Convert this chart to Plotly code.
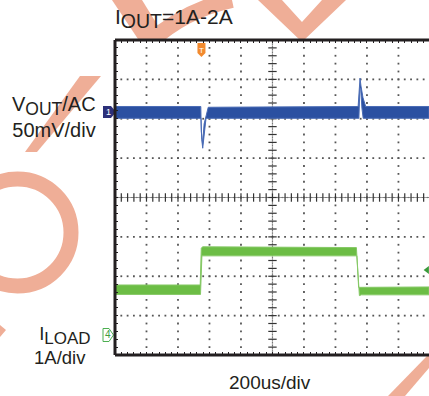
import numpy as np
import plotly.graph_objects as go

# ---------------- data ----------------
# time base: 200 us/div, 10 div; VOUT/AC 50 mV/div; ILOAD 1 A/div
time_label = "200us/div"
vout_label = "V<sub><span style='font-size:17.5px'>OUT</span></sub>/AC<br>50mV/div"
iload_label = "I<sub><span style='font-size:17px'>LOAD</span></sub><br>1A/div&nbsp;"
title_text = "I<sub><span style='font-size:19.5px'>OUT</span></sub>=1A-2A"

# VOUT noise band, upper / lower envelope (us, mV)
vout_up_t = [0, 545, 548, 556, 566, 592, 1544, 1552, 1556, 1562, 1575, 1592, 1994]
vout_up_v = [7, 7, -25, -40, -15, 6, 7, 40, 43, 33, 18, 7, 7]
vout_lo_t = [0, 546, 551, 557, 562, 578, 1549, 1555, 1560, 1568, 1576, 1994]
vout_lo_v = [-8, -8, -35, -46, -38, -8, -8, 30, 30, 5, -8, -8]

# ILOAD noise band, upper / lower envelope (us, A)
iload_up_t = [0, 541, 548, 556, 1533, 1540, 1547, 1994]
iload_up_a = [1.27, 1.27, 2.20, 2.24, 2.22, 1.6, 1.21, 1.22]
iload_lo_t = [0, 543, 552, 1536, 1552, 1565, 1994]
iload_lo_a = [1.03, 1.03, 2.01, 2.01, 1.00, 1.02, 1.02]

trigger_time = 549      # us
trigger_level = 1.65    # A

# ---------------- layout geometry ----------------
W, H = 429, 396
L, R, T, B = 115, 0, 40, 41
PW, PH = W - L - R, H - T - B
X_RANGE = [0, 1994]
V_RANGE = [91.43 - 400, 91.43]
I_RANGE = [-0.508, 7.492]

INK = "#231f20"
BLUE = "#2b50a1"
GREEN = "#6cbd45"
SALMON = "#efae97"
FONT = "Liberation Sans, Arial, sans-serif"


def pp(px, py):
    return (px - L) / PW, (H - B - py) / PH


def path(points):
    s = ""
    for i, (px, py) in enumerate(points):
        x, y = pp(px, py)
        s += ("M" if i == 0 else "L") + f"{x:.4f},{y:.4f} "
    return s + "Z"


fig = go.Figure()

# ---------------- graticule ----------------
top = V_RANGE[1]
gx, gy = [], []
for k in range(1, 10):
    if k == 5:
        continue
    for j in range(0, 41):
        gx.append(200 * k)
        gy.append(top - 10 * j)
for j in range(1, 8):
    if j == 4:
        continue
    for i in range(0, 51):
        gx.append(40 * i)
        gy.append(top - 50 * j)
fig.add_trace(go.Scatter(x=gx, y=gy, mode="markers",
                         marker=dict(symbol="square", size=1.8, color="#555"),
                         hoverinfo="skip", showlegend=False))
cy = top - 200
cx_d = [1000] * 201
cy_d = [top - 2 * j for j in range(201)]
cx_d += [8 * i for i in range(251)]
cy_d += [cy] * 251
fig.add_trace(go.Scatter(x=cx_d, y=cy_d, mode="markers",
                         marker=dict(symbol="square", size=1.2, color="#777"),
                         hoverinfo="skip", showlegend=False))
fig.add_trace(go.Scatter(x=[1000] * 41, y=[top - 10 * j for j in range(41)], mode="markers",
                         marker=dict(symbol="line-ew", size=6, line=dict(width=1.2, color="#333")),
                         hoverinfo="skip", showlegend=False))
fig.add_trace(go.Scatter(x=[40 * i for i in range(51)], y=[cy] * 51, mode="markers",
                         marker=dict(symbol="line-ns", size=6, line=dict(width=1.2, color="#333")),
                         hoverinfo="skip", showlegend=False))

# ---------------- waveforms ----------------
fig.add_trace(go.Scatter(x=vout_up_t + vout_lo_t[::-1], y=vout_up_v + vout_lo_v[::-1],
                         fill="toself", fillcolor=BLUE, mode="lines",
                         line=dict(color="#4a6cb6", width=1),
                         hoverinfo="skip", showlegend=False))
fig.add_trace(go.Scatter(x=iload_up_t + iload_lo_t[::-1], y=iload_up_a + iload_lo_a[::-1],
                         fill="toself", fillcolor=GREEN, mode="lines",
                         line=dict(color="#86c966", width=1), yaxis="y2",
                         hoverinfo="skip", showlegend=False))
fig.add_trace(go.Scatter(x=[X_RANGE[1] - 12], y=[trigger_level], mode="markers", yaxis="y2",
                         marker=dict(symbol="triangle-left", size=7, color="#3a9a3a"),
                         cliponaxis=False, hoverinfo="skip", showlegend=False))

# ---------------- shapes ----------------
shapes = []
# watermark (outside the graticule)
shapes.append(dict(type="circle", xref="paper", yref="paper", layer="below",
                   x0=pp(-36, 0)[0], x1=pp(71, 0)[0], y0=pp(0, 286)[1], y1=pp(0, 179)[1],
                   line=dict(color=SALMON, width=15)))
for poly in [
    [(80, 76), (101, 76), (37, 152), (25, 152)],
    [(112, 0), (142, 0), (168, 42), (140, 42)],
    [(258, 0), (282, 0), (302, 22), (322, 0), (346, 0), (302, 42)],
    [(427, 356), (429, 356), (429, 368), (405, 396), (388, 396)],
    [(0, 325), (6, 330), (0, 337)],
]:
    shapes.append(dict(type="path", xref="paper", yref="paper", layer="below",
                       path=path(poly), fillcolor=SALMON, line=dict(width=0)))
shapes.append(dict(type="path", xref="paper", yref="paper", layer="below",
                   path="M" + "{:.4f},{:.4f}".format(*pp(150, 42)) + " Q" +
                        "{:.4f},{:.4f}".format(*pp(185, 10)) + " " +
                        "{:.4f},{:.4f}".format(*pp(232, 0)),
                   line=dict(color=SALMON, width=16)))
# white graticule area
shapes.append(dict(type="rect", xref="paper", yref="paper", layer="below",
                   x0=0, x1=1, y0=0, y1=1, fillcolor="white", line=dict(width=0)))

# channel 1 ground marker
gy1 = (0 - V_RANGE[0]) / (V_RANGE[1] - V_RANGE[0])
gpy1 = H - B - gy1 * PH
shapes.append(dict(type="path", xref="paper", yref="paper",
                   path=path([(103, gpy1 - 6), (111, gpy1 - 6), (116, gpy1), (111, gpy1 + 6), (103, gpy1 + 6)]),
                   fillcolor="#2c3079", line=dict(width=0)))
# channel 4 ground marker
gy4 = (0 - I_RANGE[0]) / (I_RANGE[1] - I_RANGE[0])
gpy4 = H - B - gy4 * PH
shapes.append(dict(type="path", xref="paper", yref="paper",
                   path=path([(103, gpy4 - 6.5), (109, gpy4 - 6.5), (113.5, gpy4), (109, gpy4 + 6.5), (103, gpy4 + 6.5)]),
                   fillcolor="white", line=dict(width=1, color="#4caf50")))
# trigger marker
tx = (trigger_time - X_RANGE[0]) / (X_RANGE[1] - X_RANGE[0])
tpx = L + tx * PW
shapes.append(dict(type="path", xref="paper", yref="paper",
                   path=path([(tpx - 4, 43), (tpx + 4, 43), (tpx + 4, 53), (tpx, 57), (tpx - 4, 53)]),
                   fillcolor="#f28a2e", line=dict(width=0)))
# thick border lines
for (x0, y0, x1, y1) in [(0, 0, 0, 1), (0, 1, 1, 1), (0, 0, 1, 0)]:
    shapes.append(dict(type="line", xref="paper", yref="paper", x0=x0, y0=y0, x1=x1, y1=y1,
                       line=dict(color=INK, width=3)))

# ---------------- annotations ----------------
def ann(text, px, py, anchor="right", size=20, color=INK, align="right"):
    x, y = pp(px, py)
    return dict(text=text, x=x, y=y, xref="paper", yref="paper", xanchor=anchor, yanchor="middle",
                align=align, showarrow=False, font=dict(family=FONT, size=size, color=color))

annotations = [
    ann(title_text, 113, 18, anchor="left", size=21, align="left"),
    ann(vout_label, 98, 117, size=20),
    ann(iload_label, 92.5, 345, size=18.5),
    ann(time_label, 270, 383, anchor="center", size=19, align="center"),
    ann("1", 108.5, gpy1, anchor="center", size=9, color="white", align="center"),
    ann("4", 107.5, gpy4, anchor="center", size=10, color="#3e9e3e", align="center"),
    ann("T", tpx, 50, anchor="center", size=8, color="white", align="center"),
]

fig.update_layout(
    width=W, height=H, margin=dict(l=L, r=R, t=T, b=B, pad=0),
    paper_bgcolor="white", plot_bgcolor="white", showlegend=False,
    shapes=shapes, annotations=annotations,
    xaxis=dict(range=X_RANGE, showgrid=False, zeroline=False, showticklabels=False,
               ticks="inside", tick0=0, dtick=40, ticklen=3, tickwidth=1, tickcolor=INK,
               showline=False, mirror="ticks", fixedrange=True),
    yaxis=dict(range=V_RANGE, showgrid=False, zeroline=False, showticklabels=False,
               ticks="inside", tick0=V_RANGE[1], dtick=10, ticklen=3, tickwidth=1, tickcolor=INK,
               showline=False, fixedrange=True),
    yaxis2=dict(range=I_RANGE, overlaying="y", showgrid=False, zeroline=False,
                showticklabels=False, ticks="", showline=False, fixedrange=True),
)

fig.write_html("out.html", config={"displayModeBar": False},
               post_script="document.body.style.margin='0';document.body.style.overflow='hidden';")
